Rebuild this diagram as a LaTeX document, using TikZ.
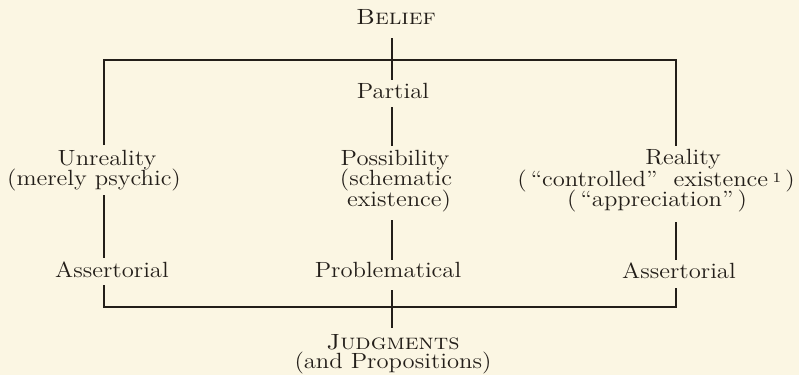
\documentclass[tikz,border=0pt]{standalone}
\usepackage{graphicx}
\definecolor{paper}{RGB}{251,246,227}
\definecolor{ink}{RGB}{35,30,25}
\newcommand\widetxt[1]{\scalebox{1.12}[1]{#1}}
\begin{document}
\begin{tikzpicture}[x=0.5pt,y=-0.5pt,
  lbl/.style={anchor=base,inner sep=0pt,text=ink,text height=6.5pt,text depth=1pt,
    font=\fontsize{11}{12}\selectfont},
  rule/.style={draw=ink,line width=1.4pt,line join=miter}]
\fill[paper] (0,0) rectangle (799,375);
\useasboundingbox (0,0) rectangle (799,375);
% texts
\node[lbl] (belief) at (396,25) {\widetxt{\textsc{Belief}}};
\node[lbl] (partial) at (393,98) {\widetxt{Partial}};
\node[lbl] (unreal) at (107,165) {\widetxt{Unreality}};
\node[lbl] (unreal2) at (94,185) {\widetxt{(merely psychic)}};
\node[lbl] (poss) at (395,165) {\widetxt{Possibility}};
\node[lbl] (poss2) at (396,185) {\widetxt{(schematic}};
\node[lbl] (poss3) at (399,206) {\widetxt{existence)}};
\node[lbl] (real) at (683,164) {\widetxt{Reality}};
\node[lbl] (real2) at (656,186) {\widetxt{(\,``controlled''\ \ existence\,\raisebox{0.35ex}{\scriptsize 1}\,)}};
\node[lbl] (real3) at (657,206) {\widetxt{(\,``appreciation''\,)}};
\node[lbl] (assL) at (112,277) {\widetxt{Assertorial}};
\node[lbl] (prob) at (388,277) {\widetxt{Problematical}};
\node[lbl] (assR) at (679,278) {\widetxt{Assertorial}};
\node[lbl] (judg) at (393,349) {\widetxt{\textsc{Judgments}}};
\node[lbl] (judg2) at (393,368) {\widetxt{(and Propositions)}};
% junction coordinates
\coordinate (bT) at (392,38);
\coordinate (pT) at (392,80);
\coordinate (pB) at (392,107);
\coordinate (possT) at (392,146);
\coordinate (tl) at (104,60);
\coordinate (tr) at (676,60);
\coordinate (unT) at (104,145);
\coordinate (reT) at (676,146);
\coordinate (unB) at (104,195);
\coordinate (aLT) at (104,258);
\coordinate (poB) at (392,220);
\coordinate (prT) at (392,260);
\coordinate (reB) at (676,222);
\coordinate (aRT) at (676,260);
\coordinate (aLB) at (104,285);
\coordinate (bl) at (104,307);
\coordinate (prB) at (392,290);
\coordinate (jT) at (392,328);
\coordinate (aRB) at (676,288);
\coordinate (br) at (676,307);
% connectors
\draw[rule] (bT) -- (pT);
\draw[rule] (unT) -- (tl) -- (tr) -- (reT);
\draw[rule] (pB) -- (possT);
\draw[rule] (unB) -- (aLT);
\draw[rule] (poB) -- (prT);
\draw[rule] (reB) -- (aRT);
\draw[rule] (aLB) -- (bl) -- (br) -- (aRB);
\draw[rule] (prB) -- (jT);
\end{tikzpicture}
\end{document}
